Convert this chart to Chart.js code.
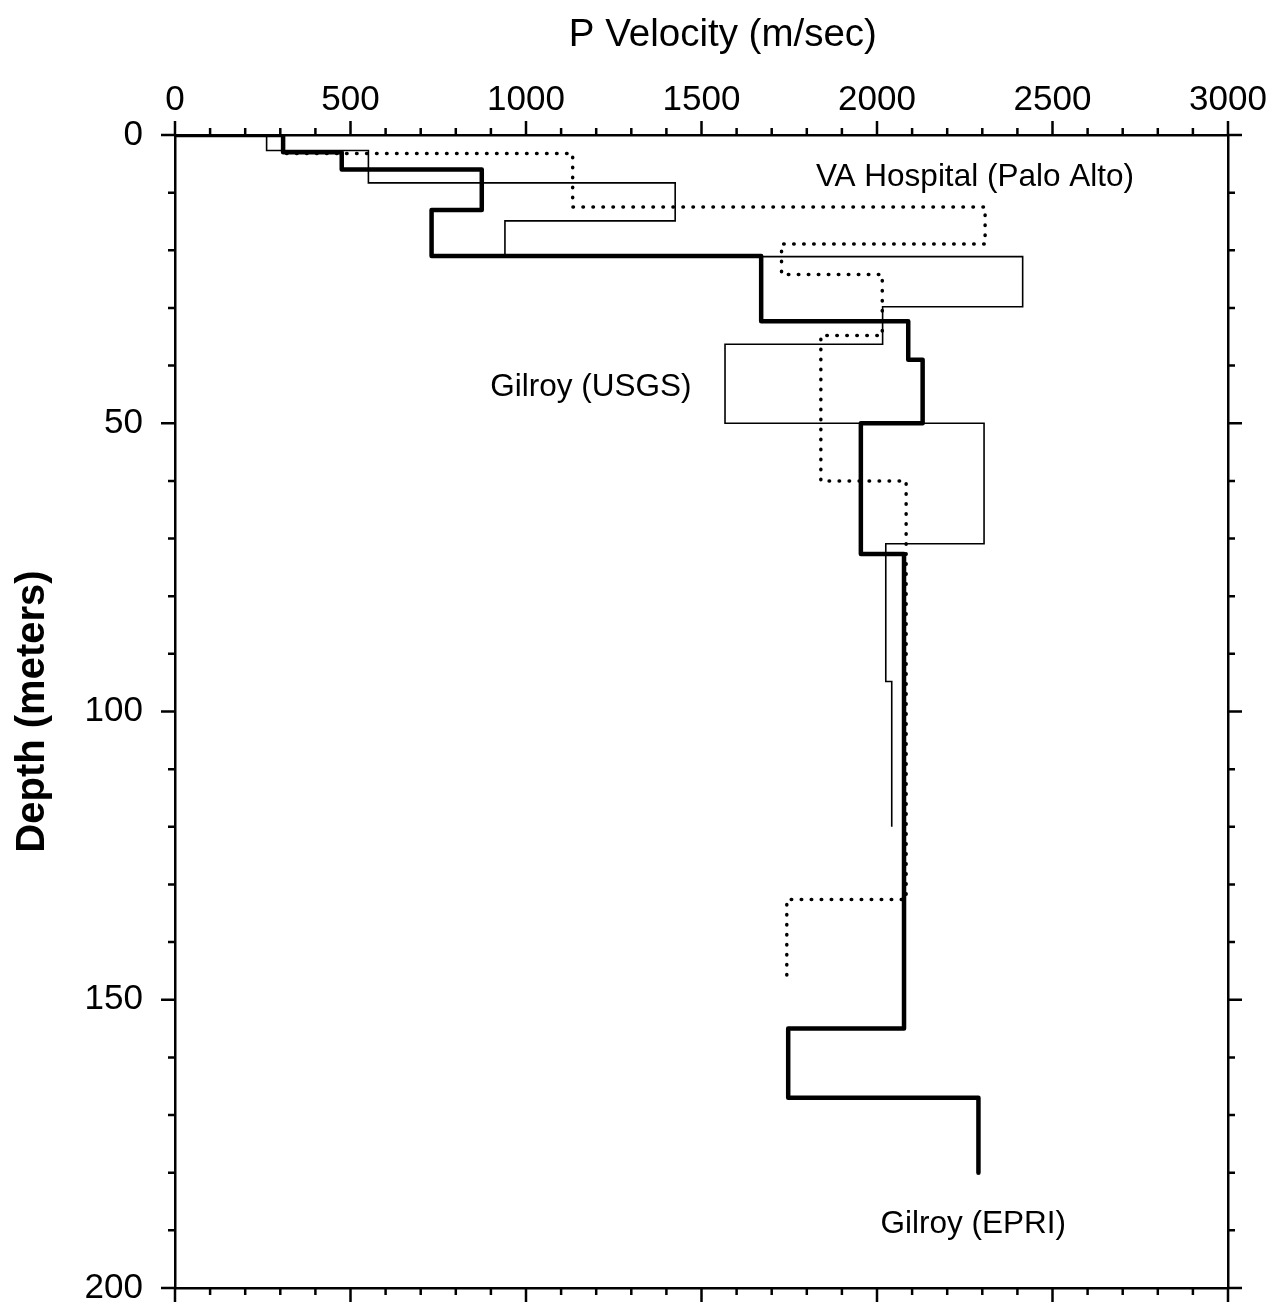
<!DOCTYPE html>
<html>
<head>
<meta charset="utf-8">
<title>P Velocity vs Depth</title>
<script src="https://cdn.jsdelivr.net/npm/chart.js@4.4.0/dist/chart.umd.min.js"></script>
<style>
  body { margin: 0; background: #fff; }
  canvas { display: block; }
</style>
</head>
<body>
<canvas id="velChart" width="1283" height="1308"></canvas>
<script>
// layer velocities (m/sec) and layer boundary depths (m)
const epriVel = [308, 475, 874, 731, 1670, 2089, 2130, 1954, 2077, 1747, 2289];
const epriDepth = [0, 3, 6, 13, 21, 32.3, 39, 50, 72.7, 155, 167, 180];

const usgsVel = [261, 551, 1425, 940, 2415, 2016, 1567, 2305, 2025, 2042];
const usgsDepth = [0, 2.7, 8.3, 14.9, 21.1, 29.8, 36.3, 50, 70.9, 94.8, 120];

const vaVel = [308, 1133, 2308, 1728, 2015, 1840, 2083, 1743];
const vaDepth = [0, 3.2, 12.5, 18.9, 24.2, 34.8, 60, 132.6, 147];

const xTicks = [0, 500, 1000, 1500, 2000, 2500, 3000];
const yTicks = [0, 50, 100, 150, 200];

const labels = [
    { text: 'VA Hospital (Palo Alto)', v: 2279, d: 7.3 },
    { text: 'Gilroy (USGS)', v: 1185, d: 43.7 },
    { text: 'Gilroy (EPRI)', v: 2274, d: 189 }
];

const FONT = '"Liberation Sans", Arial, Helvetica, sans-serif';

// turn a layered profile into step points
function steps(vel, depth) {
    const pts = [{ x: 0, y: 0 }];
    for (let i = 0; i < vel.length; i++) {
        pts.push({ x: vel[i], y: depth[i] });
        pts.push({ x: vel[i], y: depth[i + 1] });
    }
    return pts;
}

// outward tick marks on all four sides, minor + major, plus the curve labels
const tickMarks = {
    id: 'tickMarks',
    afterDraw(chart) {
        const { ctx, chartArea: a, scales } = chart;
        ctx.save();
        ctx.strokeStyle = '#000';
        ctx.lineWidth = 2.5;
        ctx.beginPath();
        for (let v = 0; v <= 3000; v += 100) {
            const px = scales.x.getPixelForValue(v);
            const len = v % 500 === 0 ? 14 : 7;
            ctx.moveTo(px, a.top); ctx.lineTo(px, a.top - len);
            ctx.moveTo(px, a.bottom); ctx.lineTo(px, a.bottom + len);
        }
        for (let d = 0; d <= 200; d += 10) {
            const py = scales.y.getPixelForValue(d);
            const len = d % 50 === 0 ? 14 : 7;
            ctx.moveTo(a.left, py); ctx.lineTo(a.left - len, py);
            ctx.moveTo(a.right, py); ctx.lineTo(a.right + len, py);
        }
        ctx.stroke();

        ctx.fillStyle = '#000';
        ctx.font = '31.5px ' + FONT;
        ctx.textAlign = 'center';
        ctx.textBaseline = 'middle';
        labels.forEach(l => {
            ctx.fillText(l.text, scales.x.getPixelForValue(l.v), scales.y.getPixelForValue(l.d));
        });
        ctx.restore();
    }
};

const border = { display: true, width: 2.5, color: '#000' };
const noGrid = { drawOnChartArea: false, drawTicks: false };

// fixed axis box sizes so the plot frame lands where it does in the figure
function fixSize(w, h) {
    return s => {
        if (w !== null) s.width = w;
        if (h !== null) s.height = h;
        s.paddingTop = 0; s.paddingBottom = 0;
        s.paddingLeft = 0; s.paddingRight = 0;
    };
}

const ctx = document.getElementById('velChart').getContext('2d');
const velChart = new Chart(ctx, {
    type: 'scatter',
    data: {
        datasets: [{
            label: 'Gilroy (EPRI)',
            data: steps(epriVel, epriDepth),
            borderColor: '#000',
            borderWidth: 4.5,
            borderJoinStyle: 'round'
        }, {
            label: 'Gilroy (USGS)',
            data: steps(usgsVel, usgsDepth),
            borderColor: '#000',
            borderWidth: 1.6
        }, {
            label: 'VA Hospital (Palo Alto)',
            data: steps(vaVel, vaDepth),
            borderColor: '#000',
            borderWidth: 3.5,
            borderDash: [0.5, 9.5],
            borderCapStyle: 'round'
        }]
    },
    options: {
        responsive: false,
        animation: false,
        showLine: true,
        elements: { point: { radius: 0, hoverRadius: 0 }, line: { tension: 0, fill: false } },
        layout: { padding: 0, autoPadding: false },
        plugins: { legend: { display: false }, tooltip: { enabled: false } },
        scales: {
            x: {
                type: 'linear', position: 'top', min: 0, max: 3000,
                afterFit: fixSize(null, 135),
                grid: noGrid, border: border,
                afterBuildTicks: s => { s.ticks = xTicks.map(v => ({ value: v })); },
                ticks: { color: '#000', padding: 14, maxRotation: 0,
                         callback: v => String(v),
                         font: { family: FONT, size: 35 } },
                title: { display: true, text: '    P Velocity (m/sec)', color: '#000',
                         padding: { top: 12, bottom: 0 }, font: { family: FONT, size: 38.5 } }
            },
            x2: {
                type: 'linear', position: 'bottom', min: 0, max: 3000,
                afterFit: fixSize(null, 20),
                grid: noGrid, border: border,
                ticks: { display: false }
            },
            y: {
                type: 'linear', position: 'left', min: 0, max: 200, reverse: true,
                afterFit: fixSize(175, null),
                grid: noGrid, border: border,
                afterBuildTicks: s => { s.ticks = yTicks.map(v => ({ value: v })); },
                ticks: { color: '#000', padding: 32, callback: v => String(v),
                         font: { family: FONT, size: 35 } },
                title: { display: true, text: 'Depth (meters)', color: '#000',
                         padding: { top: 9, bottom: 0 }, font: { family: FONT, size: 40, weight: 'bold' } }
            },
            y2: {
                type: 'linear', position: 'right', min: 0, max: 200, reverse: true,
                afterFit: fixSize(55, null),
                grid: noGrid, border: border,
                ticks: { display: false }
            }
        }
    },
    plugins: [tickMarks]
});
</script>
</body>
</html>
